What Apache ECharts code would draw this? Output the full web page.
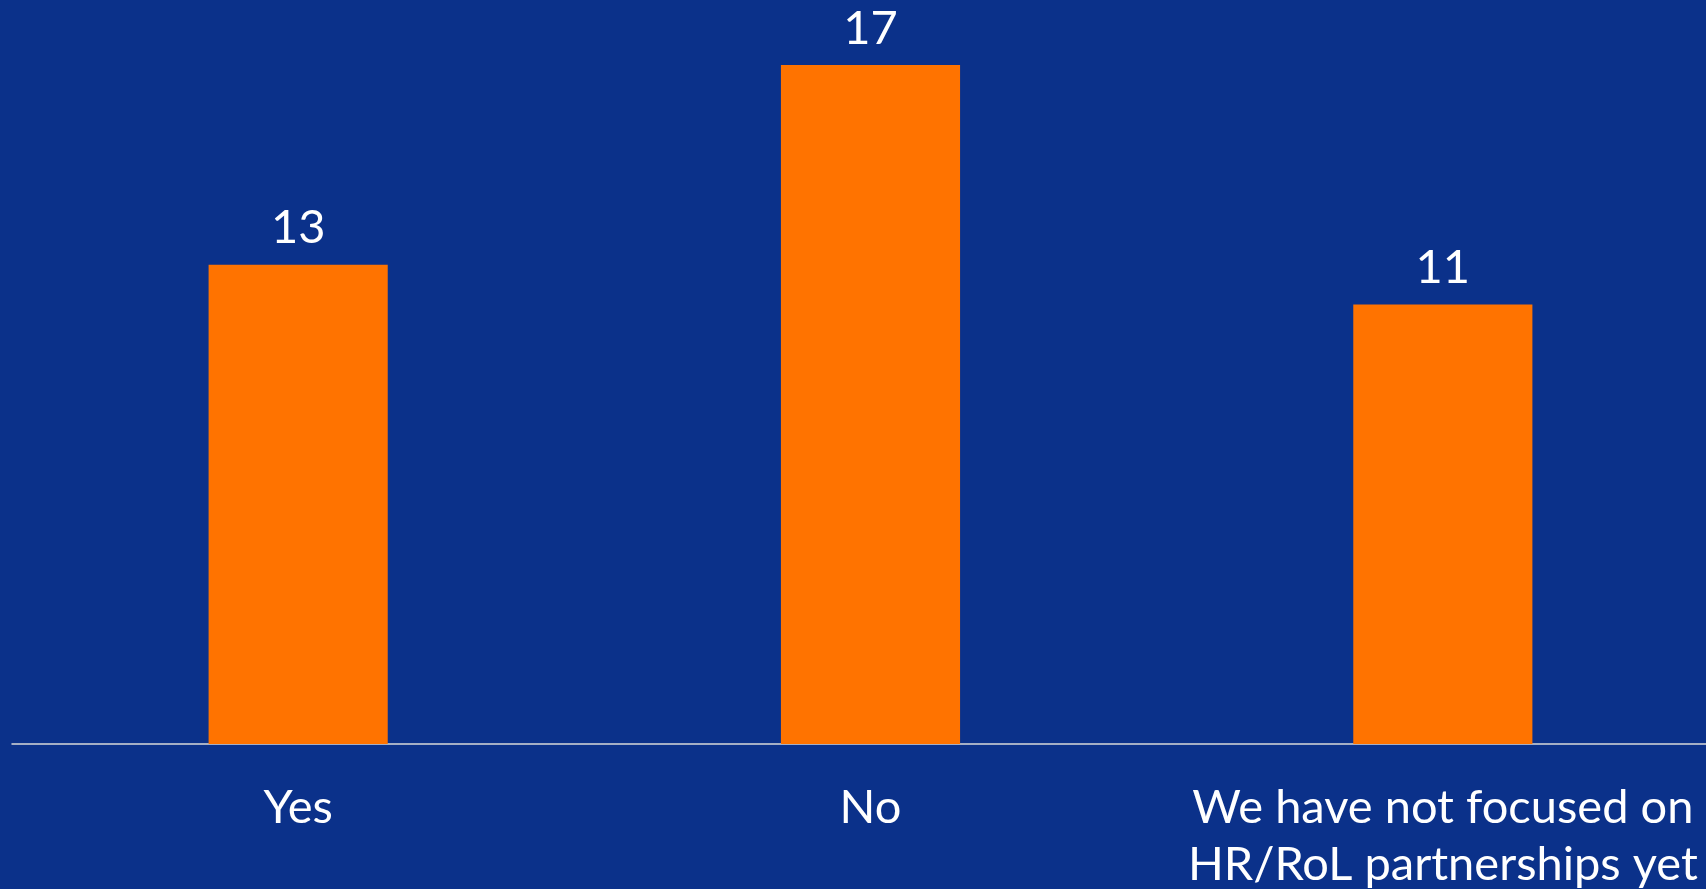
<!DOCTYPE html>
<html>
<head>
<meta charset="utf-8">
<script src="https://cdn.jsdelivr.net/npm/echarts@6/dist/echarts.min.js"></script>
<style>
html,body{margin:0;padding:0;background:#0B318A;overflow:hidden;}
#c{width:1730px;height:889px;}
</style>
</head>
<body>
<div id="c"></div>
<script>
// Categories
var categories = ['Yes', 'No', 'We have not focused on\nHR/RoL partnerships yet'];
// Bar heights as drawn in the picture
var values = [12, 17, 11];
// Data labels as printed above the bars
var valueLabels = ['13', '17', '11'];

var chart = echarts.init(document.getElementById('c'));
chart.setOption({
  backgroundColor: '#0B318A',
  animation: false,
  grid: { left: 12, width: 1717, top: 25, height: 719, containLabel: false, outerBoundsMode: 'none' },
  xAxis: {
    type: 'category',
    data: categories,
    axisLine: { show: true, lineStyle: { color: '#D9D9D9', width: 1.5 } },
    axisTick: { show: false },
    axisLabel: {
      color: '#FFFFFF', fontFamily: 'Lato', fontSize: 47, lineHeight: 57,
      margin: 35, interval: 0
    },
    splitLine: { show: false }
  },
  yAxis: {
    type: 'value', min: 0, max: 18,
    show: false, splitLine: { show: false }
  },
  series: [{
    type: 'bar',
    data: values,
    barWidth: '31.3%',
    itemStyle: { color: '#FF7300' },
    label: {
      show: true, position: 'top', distance: 13,
      color: '#FFFFFF', fontFamily: 'Lato', fontSize: 47,
      formatter: function (p) { return valueLabels[p.dataIndex]; }
    }
  }]
});
</script>
</body>
</html>
